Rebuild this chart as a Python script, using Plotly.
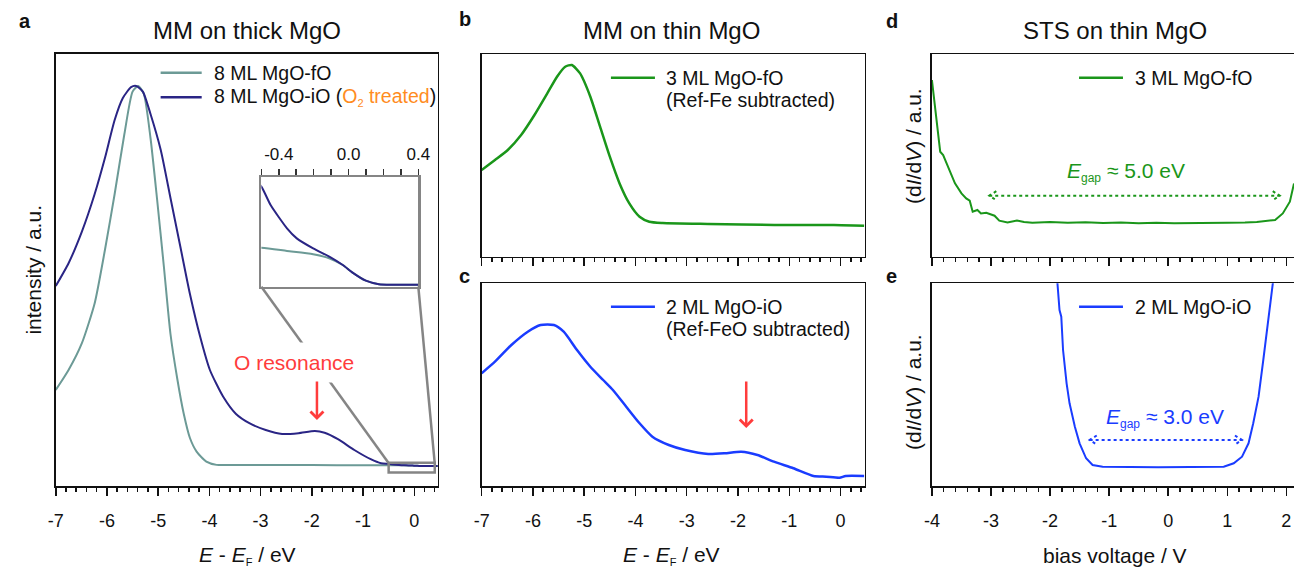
import plotly.graph_objects as go

W, H = 1306, 568
FONT = "Liberation Sans, Arial, sans-serif"

# ---------------- data ----------------
# panel a: MM on thick MgO (normalized intensity, a.u.)
a_x_fO = [-7.0, -6.75, -6.49, -6.24, -6.04, -5.85, -5.66, -5.50, -5.39, -5.28, -5.15, -5.02, -4.89,
          -4.76, -4.63, -4.50, -4.38, -4.25, -4.06, -3.86, -3.54, -3.0, -2.0, -1.0, -0.5, -0.353,
          -0.203, -0.108, -0.033, 0.023, 0.099, 0.174, 0.249, 0.4, 0.46]
a_y_fO = [0.24, 0.29, 0.357, 0.457, 0.59, 0.73, 0.88, 0.986, 1.0, 0.98, 0.87, 0.715, 0.55,
          0.38, 0.27, 0.18, 0.12, 0.086, 0.061, 0.0528, 0.0525, 0.0524, 0.0522, 0.052, 0.05194, 0.05176,
          0.05158, 0.05135, 0.05099, 0.05057, 0.05013, 0.04994, 0.04991, 0.04991, 0.04991]
a_x_iO = [-7.0, -6.75, -6.49, -6.24, -6.04, -5.85, -5.69, -5.53, -5.43, -5.30, -5.15, -4.95, -4.76,
          -4.57, -4.38, -4.18, -3.99, -3.73, -3.48, -3.22, -2.90, -2.58, -2.26, -1.94, -1.75, -1.49,
          -1.17, -0.85, -0.65, -0.5, -0.447, -0.353, -0.297, -0.203, -0.108, -0.033, 0.023, 0.099,
          0.174, 0.249, 0.4, 0.46]
a_y_iO = [0.50, 0.557, 0.636, 0.73, 0.82, 0.915, 0.97, 0.997, 1.0, 0.986, 0.93, 0.84, 0.72,
          0.60, 0.48, 0.373, 0.29, 0.223, 0.18, 0.157, 0.14, 0.13, 0.132, 0.1375, 0.133, 0.117,
          0.09, 0.067, 0.057, 0.05529, 0.05428, 0.0530, 0.05245, 0.0519, 0.05144, 0.05099, 0.05057,
          0.05013, 0.04994, 0.04991, 0.04991, 0.04991]

# panel b: 3 ML MgO-fO (Ref-Fe subtracted)
b_x = [-7.0, -6.74, -6.49, -6.23, -5.97, -5.72, -5.53, -5.37, -5.24, -5.08, -4.88, -4.69, -4.50,
       -4.31, -4.12, -3.92, -3.73, -3.47, -2.57, -1.29, -0.13, 0.46]
b_y = [86.7, 96.7, 106.7, 121.7, 141.7, 163.3, 180, 190, 191.7, 183.3, 160, 130, 100,
       73.3, 53.3, 40, 35, 33.7, 32.7, 31.7, 31.7, 31]

# panel c: 2 ML MgO-iO (Ref-FeO subtracted)
c_x = [-7.0, -6.74, -6.42, -6.10, -5.85, -5.59, -5.40, -5.14, -4.88, -4.63, -4.44, -4.18, -3.92,
       -3.67, -3.35, -3.03, -2.58, -2.26, -1.94, -1.62, -1.30, -0.92, -0.53, -0.28, -0.02, 0.10, 0.46]
c_y = [112.7, 124.3, 141, 154.3, 161, 161, 154.3, 136, 119.3, 106, 96, 79.3, 62.7,
       49.3, 41, 36, 32, 32.7, 34.3, 31, 24.3, 17.7, 10, 9.3, 8.3, 10, 10]

# panel d: STS 3 ML MgO-fO
d_x = [-4.0, -3.93, -3.86, -3.81, -3.72, -3.61, -3.5, -3.42, -3.36, -3.31, -3.23, -3.17, -3.08,
       -2.94, -2.86, -2.72, -2.56, -2.44, -2.3, -2.0, -1.7, -1.4, -1.1, -0.8, -0.5, -0.2, 0.1,
       0.4, 0.7, 1.0, 1.3, 1.5, 1.81, 1.94, 2.06, 2.13]
d_y = [176.7, 140, 105, 101.7, 88.3, 73.3, 63.3, 58.3, 56, 45, 46.7, 43.3, 44,
       41, 36, 34.3, 36.3, 34.7, 34.0, 34.6, 33.9, 34.4, 33.6, 34.1, 33.5, 33.9, 33.4,
       33.8, 33.5, 33.9, 34.2, 34.7, 36.7, 43.3, 55, 73.3]

# panel e: STS 2 ML MgO-iO
e_x = [-1.95, -1.87, -1.86, -1.84, -1.81, -1.78, -1.72, -1.67, -1.58, -1.5, -1.39, -1.28, -1.11,
       -0.17, 0.94, 1.11, 1.25, 1.36, 1.44, 1.53, 1.61, 1.69, 1.78, 1.85]
e_y = [260, 205, 190, 176, 169.3, 136, 102.7, 82.7, 59.3, 42.7, 27.7, 21, 19.3,
       18.7, 19.3, 22.7, 29.3, 42.7, 62.7, 89.3, 126, 162.7, 202.7, 240]

# tick labels
E_ticks = [-7, -6, -5, -4, -3, -2, -1, 0]
E_ticktext = ["-7", "-6", "-5", "-4", "-3", "-2", "-1", "0"]
V_ticks = [-4, -3, -2, -1, 0, 1, 2]
V_ticktext = ["-4", "-3", "-2", "-1", "0", "1", "2"]
inset_ticks = [-0.4, 0.0, 0.4]
inset_ticktext = ["-0.4", "0.0", "0.4"]

# E_gap markers
gap_d = (-3.03, 1.89)
gap_e = (-1.33, 1.25)
# O resonance positions
res_a = -1.90
res_c = -1.84

# ---------------- styles ----------------
C_TEAL = "#6c9a96"
C_NAVY = "#2a2585"
C_GREEN = "#1a961a"
C_BLUE = "#1a3cff"
C_RED = "#ff3c3c"
C_ORANGE = "#ff8c1e"
C_GRAY = "#858585"

F_TICK = 18
F_LEG = 19.5
F_TITLE = 24
F_AX = 21


def fx(p):
    return p / W


def fy(p):
    return 1 - p / H


def sub(s, size):
    return f"<sub><span style='font-size:{size}px'>{s}</span></sub>"


fig = go.Figure()

fig.add_trace(go.Scatter(x=a_x_fO, y=a_y_fO, mode="lines", line=dict(color=C_TEAL, width=2, shape="spline", smoothing=0.6), xaxis="x", yaxis="y"))
fig.add_trace(go.Scatter(x=a_x_iO, y=a_y_iO, mode="lines", line=dict(color=C_NAVY, width=2, shape="spline", smoothing=0.6), xaxis="x", yaxis="y"))
fig.add_trace(go.Scatter(x=b_x, y=b_y, mode="lines", line=dict(color=C_GREEN, width=2.5, shape="spline", smoothing=0.6), xaxis="x2", yaxis="y2"))
fig.add_trace(go.Scatter(x=c_x, y=c_y, mode="lines", line=dict(color=C_BLUE, width=2.5, shape="spline", smoothing=0.6), xaxis="x3", yaxis="y3"))
fig.add_trace(go.Scatter(x=d_x, y=d_y, mode="lines", line=dict(color=C_GREEN, width=2), xaxis="x4", yaxis="y4"))
fig.add_trace(go.Scatter(x=e_x, y=e_y, mode="lines", line=dict(color=C_BLUE, width=2), xaxis="x5", yaxis="y5"))
# inset
fig.add_trace(go.Scatter(x=a_x_fO, y=a_y_fO, mode="lines", line=dict(color=C_TEAL, width=2, shape="spline", smoothing=0.6), xaxis="x6", yaxis="y6"))
fig.add_trace(go.Scatter(x=a_x_iO, y=a_y_iO, mode="lines", line=dict(color=C_NAVY, width=2, shape="spline", smoothing=0.6), xaxis="x6", yaxis="y6"))

tickfont = dict(family=FONT, size=F_TICK, color="#111")


def xax(left, right, rng, tv, tt, show_labels, mirror=True):
    return dict(domain=[fx(left), fx(right)], range=rng, showline=True, linecolor="#111", linewidth=1.5,
                mirror=mirror, ticks="outside", ticklen=8, tickwidth=1.5, tickcolor="#111",
                tickvals=tv, ticktext=tt, showticklabels=show_labels, tickfont=tickfont,
                ticklabelstandoff=10, showgrid=False, zeroline=False,
                minor=dict(dtick=0.2, tick0=0, ticks="outside", ticklen=4, tickwidth=1.5, tickcolor="#111", showgrid=False))


def yax(top, bottom, rng, mirror=True):
    return dict(domain=[fy(bottom), fy(top)], range=rng, showline=True, linecolor="#111", linewidth=1.5,
                mirror=mirror, ticks="", showticklabels=False, showgrid=False, zeroline=False)


A = (48.5, 436.5, 53.5, 486)
B = (481, 870, 54, 256.7)
Cc = (481, 870, 283.3, 486)
D = (938.3, 1306, 54, 256.7)
Ee = (938.3, 1306, 283.3, 486)
INS = (257.3, 416.7, 177.3, 286.7)

a_yr = [0, 432.5 / 400]
fig.update_layout(
    width=W, height=H, margin=dict(l=0, r=0, t=0, b=0), autosize=False,
    paper_bgcolor="white", plot_bgcolor="white", showlegend=False, hovermode=False,
    font=dict(family=FONT, color="#111"),
    xaxis=dict(xax(A[0], A[1], [-7, 0.46], E_ticks, E_ticktext, True), anchor="y"),
    yaxis=dict(yax(A[2], A[3], a_yr), anchor="x"),
    xaxis2=dict(xax(B[0], B[1], [-7, 0.47], E_ticks, E_ticktext, False), anchor="y2"),
    yaxis2=dict(yax(B[2], B[3], [0, 202.7]), anchor="x2"),
    xaxis3=dict(xax(Cc[0], Cc[1], [-7, 0.47], E_ticks, E_ticktext, True), anchor="y3"),
    yaxis3=dict(yax(Cc[2], Cc[3], [0, 202.7]), anchor="x3"),
    xaxis4=dict(xax(D[0], D[1], [-4, 2.13], V_ticks, V_ticktext, False), anchor="y4"),
    yaxis4=dict(yax(D[2], D[3], [0, 202.7], mirror=False), anchor="x4"),
    xaxis5=dict(xax(Ee[0], Ee[1], [-4, 2.13], V_ticks, V_ticktext, True), anchor="y5"),
    yaxis5=dict(yax(Ee[2], Ee[3], [0, 202.7], mirror=False), anchor="x5"),
    xaxis6=dict(domain=[fx(INS[0]), fx(INS[1])], range=[-0.5, 0.4], side="top", anchor="y6",
                showline=True, mirror=True, linecolor=C_GRAY, linewidth=2.5,
                ticks="outside", ticklen=6, tickwidth=1.5, tickcolor="#333",
                tickvals=inset_ticks, ticktext=inset_ticktext, tickfont=dict(family=FONT, size=17, color="#111"),
                ticklabelstandoff=2,
                minor=dict(dtick=0.1, tick0=0, ticks="outside", ticklen=6, tickwidth=1.5, tickcolor="#333"),
                showgrid=False, zeroline=False),
    yaxis6=dict(domain=[fy(INS[3]), fy(INS[2])], range=[0.0498, 0.0558], anchor="x6",
                showline=True, mirror=True, linecolor=C_GRAY, linewidth=2.5, ticks="",
                showticklabels=False, showgrid=False, zeroline=False),
)

shapes = []
# small zoom rectangle in panel a and connecting lines
shapes.append(dict(type="rect", xref="x", yref="y", x0=-0.5, x1=0.4, y0=0.034, y1=0.058,
                   line=dict(color=C_GRAY, width=2.5), layer="above"))
shapes.append(dict(type="line", xref="paper", yref="paper", x0=fx(INS[0]), y0=fy(INS[3]),
                   x1=fx(386.3), y1=fy(462.7), line=dict(color=C_GRAY, width=2.5)))
shapes.append(dict(type="line", xref="paper", yref="paper", x0=fx(INS[1]), y0=fy(INS[3]),
                   x1=fx(433.3), y1=fy(462.7), line=dict(color=C_GRAY, width=2.5)))


# legend line samples
def leg_line(x0, x1, y, color):
    shapes.append(dict(type="line", xref="paper", yref="paper", x0=fx(x0), x1=fx(x1), y0=fy(y), y1=fy(y),
                       line=dict(color=color, width=2.5)))


leg_line(155, 196.7, 72.7, C_TEAL)
leg_line(155, 196.7, 97.3, C_NAVY)
leg_line(612.3, 657, 77.7, C_GREEN)
leg_line(612.3, 657, 306.7, C_BLUE)
leg_line(1087.7, 1132.3, 77.7, C_GREEN)
leg_line(1087.7, 1132.3, 306.7, C_BLUE)


# E_gap dotted double arrows
def gap_arrow(xr, yr, x0, x1, y, color):
    dx, dy = 0.12, 4.5
    style = dict(color=color, width=2, dash="dot")
    shapes.append(dict(type="line", xref=xr, yref=yr, x0=x0, x1=x1, y0=y, y1=y, line=style))
    shapes.append(dict(type="path", xref=xr, yref=yr,
                       path=f"M {x0 + dx},{y + dy} L {x0},{y} L {x0 + dx},{y - dy}", line=style))
    shapes.append(dict(type="path", xref=xr, yref=yr,
                       path=f"M {x1 - dx},{y + dy} L {x1},{y} L {x1 - dx},{y - dy}", line=style))


gap_arrow("x4", "y4", gap_d[0], gap_d[1], 61, C_GREEN)
gap_arrow("x5", "y5", gap_e[0], gap_e[1], 46, C_BLUE)

fig.update_layout(shapes=shapes)

ann = []


def text(x, y, s, size=F_LEG, color="#111", xanchor="left", bold=False, angle=0, **kw):
    if bold:
        s = f"<b>{s}</b>"
    ann.append(dict(x=fx(x), y=fy(y), xref="paper", yref="paper", text=s, showarrow=False,
                    xanchor=xanchor, yanchor="middle", textangle=angle,
                    font=dict(family=FONT, size=size, color=color), **kw))


# panel titles
text(243, 31, "MM on thick MgO", size=F_TITLE, xanchor="center")
text(674, 31, "MM on thin MgO", size=F_TITLE, xanchor="center")
text(1124, 31, "STS on thin MgO", size=F_TITLE, xanchor="center")
# panel letters
text(9, 21, "a", size=20, bold=True)
text(456, 19, "b", size=20, bold=True)
text(456, 276, "c", size=20, bold=True)
text(890, 21, "d", size=20, bold=True)
text(890, 276, "e", size=20, bold=True)
# legends
text(206.7, 72.7, "8 ML MgO-fO")
text(206.7, 97.3, f"8 ML MgO-iO (<span style='color:{C_ORANGE}'>O{sub('2', 11)} treated</span>)")
text(666.3, 77.7, "3 ML MgO-fO")
text(666.3, 100, "(Ref-Fe subtracted)")
text(666.3, 306.7, "2 ML MgO-iO")
text(666.3, 329.3, "(Ref-FeO subtracted)")
text(1142.3, 77.7, "3 ML MgO-fO")
text(1142.3, 306.7, "2 ML MgO-iO")
# axis titles
E_label = f"<i>E</i> - <i>E</i>{sub('F', 11)} / eV"
text(243, 555, E_label, size=F_AX, xanchor="center")
text(674, 555, E_label, size=F_AX, xanchor="center")
text(1124, 555, "bias voltage / V", size=F_AX, xanchor="center")
text(26, 270, "intensity / a.u.", size=F_AX, xanchor="center", angle=-90)
text(919, 146, "(d<i>I</i>/d<i>V</i>) / a.u.", size=F_AX, xanchor="center", angle=-90)
text(919, 392, "(d<i>I</i>/d<i>V</i>) / a.u.", size=F_AX, xanchor="center", angle=-90)

# O resonance label (white box hides the connector line)
ann.append(dict(x=-2.35, y=0.31, xref="x", yref="y", text="O resonance", showarrow=False,
                xanchor="center", yanchor="middle", bgcolor="white", borderpad=8,
                font=dict(family=FONT, size=21, color=C_RED)))
# E_gap labels
ann.append(dict(x=-0.72, y=85, xref="x4", yref="y4", text=f"<i>E</i>{sub('gap', 12)} ≈ 5.0 eV", showarrow=False,
                xanchor="center", yanchor="middle", font=dict(family=FONT, size=21, color=C_GREEN)))
ann.append(dict(x=-0.06, y=67.7, xref="x5", yref="y5", text=f"<i>E</i>{sub('gap', 12)} ≈ 3.0 eV", showarrow=False,
                xanchor="center", yanchor="middle", font=dict(family=FONT, size=21, color=C_BLUE)))
# red arrows
ann.append(dict(x=res_a, y=0.165, ax=res_a, ay=0.265, xref="x", yref="y", axref="x", ayref="y",
                text="", showarrow=True, arrowhead=4, arrowsize=1, arrowwidth=2.5, arrowcolor=C_RED))
ann.append(dict(x=res_c, y=58, ax=res_c, ay=106, xref="x3", yref="y3", axref="x3", ayref="y3",
                text="", showarrow=True, arrowhead=4, arrowsize=1, arrowwidth=2.5, arrowcolor=C_RED))

fig.update_layout(annotations=ann)

fig.write_html("out.html", config={"responsive": False, "displayModeBar": False, "staticPlot": True},
               post_script="document.body.style.margin='0';document.body.style.overflow='hidden';")
